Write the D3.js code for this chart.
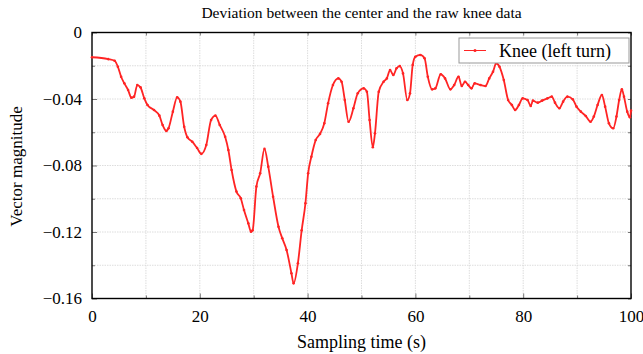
<!DOCTYPE html>
<html>
<head>
<meta charset="utf-8">
<script src="https://cdn.jsdelivr.net/npm/d3@7"></script>
<style>
  body { margin: 0; background: #fff; }
  text { font-family: "Liberation Serif", "Times New Roman", serif; fill: #000; }
</style>
</head>
<body>
<div class="chart_container"></div>
<script>
// sampling time (s)
var times = [0, 3.0, 4.2, 4.8, 5.4, 6.0, 6.7, 7.3, 7.8, 8.4, 9.0, 9.7, 10.3, 11.5, 12.5, 13.1, 13.8, 14.2, 15.0, 15.8,
  16.4, 17.1, 17.7, 18.6, 19.5, 20.3, 21.2, 22.1, 22.9, 23.7, 24.7, 25.3, 25.9, 26.8, 27.6, 28.2, 29.0, 29.5, 29.8, 30.5,
  31.2, 32.0, 32.7, 33.6, 34.6, 35.3, 36.1, 37.0, 37.4, 38.2, 38.9, 39.6, 40.1, 40.7, 41.5, 42.3, 43.1, 43.8, 44.7, 45.7,
  46.3, 46.9, 47.6, 48.5, 49.3, 50.4, 51.0, 51.5, 52.1, 52.5, 53.2, 54.1, 54.7, 55.3, 55.9, 56.5, 57.1, 57.7, 58.5, 59.0,
  59.5, 60.0, 60.9, 61.7, 62.3, 63.1, 63.7, 64.7, 65.5, 66.5, 67.2, 68.0, 68.6, 69.2, 69.8, 70.4, 71.0, 72.1, 73.0, 73.7,
  74.4, 75.0, 75.6, 76.4, 77.2, 77.9, 78.5, 79.2, 79.9, 80.8, 81.4, 81.8, 82.7, 83.5, 84.5, 85.3, 85.9, 86.7, 87.4, 88.2,
  89.2, 89.9, 90.7, 91.6, 92.5, 93.1, 93.8, 94.6, 95.2, 95.9, 96.7, 97.3, 97.8, 98.3, 98.7, 99.3, 99.8, 100];
// knee deviation (vector magnitude)
var knee = [-0.0149, -0.016, -0.017, -0.0206, -0.0266, -0.0306, -0.0346, -0.0392, -0.0386, -0.0316, -0.033, -0.0396, -0.0436, -0.0466, -0.050, -0.0556, -0.0592, -0.0576, -0.0476, -0.039,
  -0.0416, -0.0567, -0.063, -0.0657, -0.0695, -0.073, -0.0677, -0.0526, -0.050, -0.0556, -0.0627, -0.0707, -0.0827, -0.0957, -0.0997, -0.1068, -0.1148, -0.1198, -0.119, -0.0927,
  -0.0847, -0.070, -0.0807, -0.0988, -0.1168, -0.1238, -0.1308, -0.1448, -0.1509, -0.1388, -0.119, -0.1027, -0.0847, -0.0747, -0.0647, -0.061, -0.0546, -0.0426, -0.0316, -0.0276,
  -0.0296, -0.0406, -0.0537, -0.0456, -0.0366, -0.0336, -0.0356, -0.0526, -0.069, -0.0606, -0.0356, -0.0296, -0.0276, -0.0226, -0.0256, -0.0215, -0.0202, -0.0246, -0.0406, -0.0366,
  -0.0195, -0.0146, -0.0135, -0.0155, -0.0266, -0.0342, -0.0336, -0.0251, -0.0276, -0.0342, -0.0316, -0.0266, -0.0322, -0.0296, -0.0316, -0.0336, -0.0306, -0.0316, -0.0322, -0.0276,
  -0.0236, -0.0185, -0.0206, -0.0286, -0.0406, -0.0436, -0.0466, -0.0436, -0.0396, -0.0406, -0.0442, -0.041, -0.0422, -0.041, -0.0396, -0.0386, -0.0422, -0.0456, -0.0416, -0.0386,
  -0.0402, -0.0446, -0.0476, -0.0502, -0.0537, -0.0506, -0.0436, -0.0376, -0.0446, -0.0546, -0.0576, -0.0506, -0.0406, -0.0342, -0.0386, -0.0476, -0.051, -0.047];

var xTicks = [0, 20, 40, 60, 80, 100];
var xMinorTicks = [10, 30, 50, 70, 90];
var yTicks = [0, -0.04, -0.08, -0.12, -0.16];
var yMinorTicks = [-0.02, -0.06, -0.1, -0.14];
var yTickLabels = ["0", "\u22120.04", "\u22120.08", "\u22120.12", "\u22120.16"];

var svg = d3.select(".chart_container").append("svg")
    .attr("width", 643)
    .attr("height", 354);

var pLeft = 92, pRight = 631, pTop = 32.5, pBottom = 298.5;

var x = d3.scaleLinear().domain([0, 100]).range([pLeft, pRight]);
var y = d3.scaleLinear().domain([-0.16, 0]).range([pBottom, pTop]);

// grid
var grid = svg.append("g").attr("id", "grid");
grid.selectAll("line.gx")
    .data(xTicks.concat(xMinorTicks).filter(d => d > 0 && d < 100))
    .enter().append("line")
        .attr("x1", d => x(d)).attr("x2", d => x(d))
        .attr("y1", pTop).attr("y2", pBottom)
        .style("stroke", "#d4d4d4")
        .style("stroke-width", "0.8px")
        .style("stroke-dasharray", "1.5,1");
grid.selectAll("line.gy")
    .data(yTicks.concat(yMinorTicks).filter(d => d < 0 && d > -0.16))
    .enter().append("line")
        .attr("y1", d => y(d)).attr("y2", d => y(d))
        .attr("x1", pLeft).attr("x2", pRight)
        .style("stroke", "#d4d4d4")
        .style("stroke-width", "0.8px")
        .style("stroke-dasharray", "1.5,1");

// axes (ticks inward)
svg.append("g").attr("transform", "translate(0," + pBottom + ")")
    .call(d3.axisBottom(x).tickValues(xTicks).tickSize(-5).tickPadding(11).tickFormat(d3.format("d")));
svg.append("g").attr("transform", "translate(0," + pBottom + ")")
    .call(d3.axisBottom(x).tickValues(xMinorTicks).tickSize(-3).tickFormat(""));
svg.append("g").attr("transform", "translate(0," + pTop + ")")
    .call(d3.axisTop(x).tickValues(xTicks.concat(xMinorTicks)).tickSize(-3).tickFormat(""));
svg.append("g").attr("transform", "translate(" + pLeft + ",0)")
    .call(d3.axisLeft(y).tickValues(yTicks).tickSize(-5).tickPadding(10)
        .tickFormat((d, i) => yTickLabels[i]));
svg.append("g").attr("transform", "translate(" + pLeft + ",0)")
    .call(d3.axisLeft(y).tickValues(yMinorTicks).tickSize(-3).tickFormat(""));
svg.append("g").attr("transform", "translate(" + pRight + ",0)")
    .call(d3.axisRight(y).tickValues(yTicks.concat(yMinorTicks)).tickSize(-3).tickFormat(""));

svg.selectAll(".domain").remove();
svg.selectAll(".tick line").style("stroke", "#555").style("stroke-width", "0.8px");
svg.selectAll(".tick text")
    .style("font-family", "'Liberation Serif', serif")
    .style("font-size", "17px")
    .style("fill", "#000");

// frame
svg.append("rect")
    .attr("x", pLeft).attr("y", pTop)
    .attr("width", pRight - pLeft).attr("height", pBottom - pTop)
    .style("fill", "none")
    .style("stroke", "#000")
    .style("stroke-width", "1.4px");

// data line
var line = d3.line()
    .x((d, i) => x(times[i]))
    .y(d => y(d))
    .curve(d3.curveMonotoneX);

var plot = svg.append("g").attr("id", "knee");
plot.append("path")
    .datum(knee)
    .attr("d", line)
    .style("fill", "none")
    .style("stroke", "#ff2424")
    .style("stroke-width", "1.8px");
plot.selectAll("circle")
    .data(knee)
    .enter().append("circle")
        .attr("cx", (d, i) => x(times[i]))
        .attr("cy", d => y(d))
        .attr("r", 1.3)
        .style("fill", "#ff2424");

// legend
var legend = svg.append("g").attr("id", "legend");
legend.append("rect")
    .attr("x", 459).attr("y", 38)
    .attr("width", 170).attr("height", 25)
    .style("fill", "#fff")
    .style("stroke", "#999")
    .style("stroke-width", "1px");
legend.append("line")
    .attr("x1", 464).attr("x2", 486)
    .attr("y1", 50.5).attr("y2", 50.5)
    .style("stroke", "#ff2424")
    .style("stroke-width", "1px");
legend.append("circle")
    .attr("cx", 475).attr("cy", 50.5).attr("r", 1.5)
    .style("fill", "#ff2424");
legend.append("text")
    .attr("x", 499).attr("y", 56.5)
    .style("font-size", "18px")
    .text("Knee (left turn)");

// title and labels
svg.append("text")
    .attr("x", (pLeft + pRight) / 2).attr("y", 18)
    .attr("text-anchor", "middle")
    .style("font-size", "15.5px")
    .text("Deviation between the center and the raw knee data");
svg.append("text")
    .attr("x", (pLeft + pRight) / 2).attr("y", 348)
    .attr("text-anchor", "middle")
    .style("font-size", "18px")
    .text("Sampling time (s)");
svg.append("text")
    .attr("transform", "translate(22," + ((pTop + pBottom) / 2 + 1) + ") rotate(-90)")
    .attr("text-anchor", "middle")
    .style("font-size", "17px")
    .text("Vector magnitude");
</script>
</body>
</html>
